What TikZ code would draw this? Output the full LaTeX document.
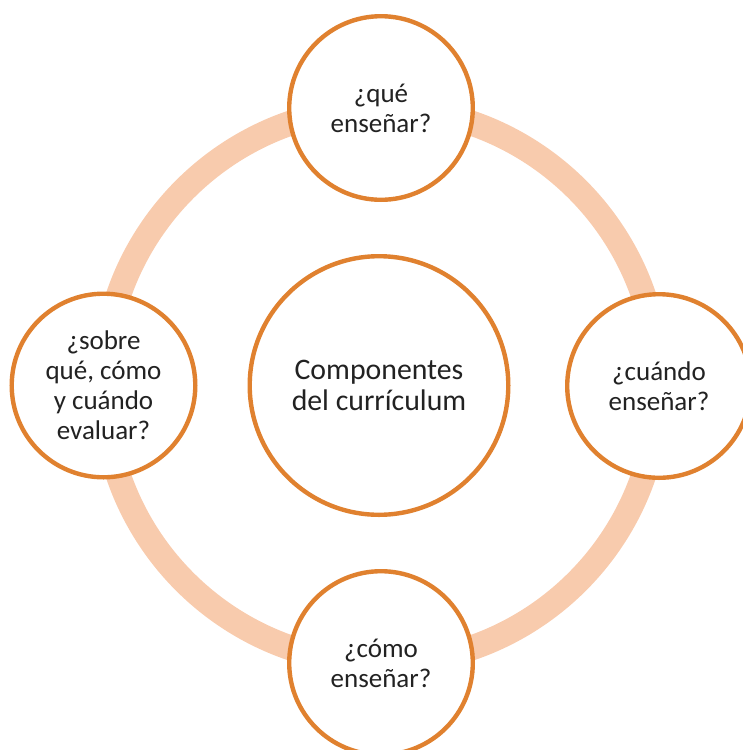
\documentclass[tikz,border=0pt]{standalone}
\usepackage{fontspec}
\setmainfont{Carlito}
\usetikzlibrary{positioning}

\definecolor{ringpeach}{HTML}{F8CBAD}
\definecolor{circorange}{HTML}{E0812F}
\definecolor{textgray}{HTML}{222222}

\begin{document}
\begin{tikzpicture}[x=1pt,y=-1pt,
		topic/.style={circle,draw=circorange,line width=4.4pt,fill=white,minimum size=183.6pt,inner sep=0pt,align=center,text=textgray,font=\fontsize{27}{30}\selectfont},
		core/.style={topic,minimum size=258.6pt,font=\fontsize{29.8}{30.5}\selectfont}]
		
		% Page frame
		\useasboundingbox (0,0) rectangle (743,750);
		\clip (0,0) rectangle (743,750);
		
		% Draw ring behind the circles
		\coordinate (hub) at (381,385.5);
		\draw [ringpeach,line width=25pt] (hub) circle (277.5);
		
		% Draw centre circle
		\node[core] (curriculum) at (379,385.5) {Componentes\\del currículum};
		
		% Draw outer circles
		\node[topic] (que) at (381,108) {¿qué\\enseñar?};
		\node[topic] (cuando) at (659,386) {¿cuándo\\enseñar?};
		\node[topic] (como) at (381,663) {¿cómo\\enseñar?};
		\node[topic] (evaluar) at (103.5,385.5) {¿sobre\\qué, cómo\\y cuándo\\evaluar?};
		
		\end{tikzpicture}
\end{document}
